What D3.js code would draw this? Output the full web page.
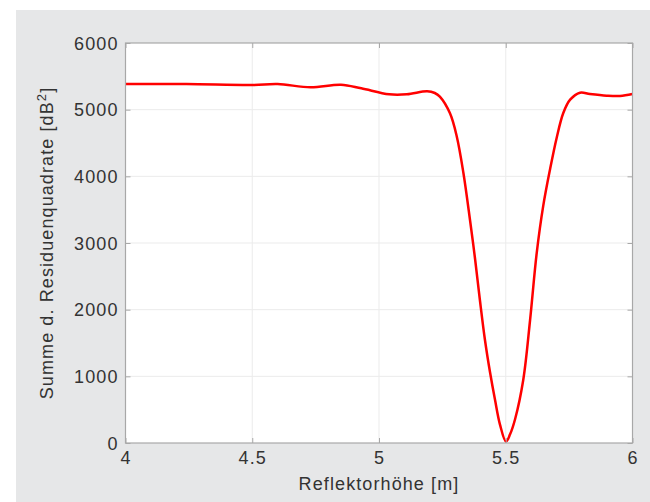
<!DOCTYPE html>
<html>
<head>
<meta charset="utf-8">
<script src="https://cdn.jsdelivr.net/npm/d3@7"></script>
<style>
  html, body { margin: 0; padding: 0; background: #ffffff; }
  svg { display: block; }
  text { font-family: "Liberation Sans", Arial, Helvetica, sans-serif; }
</style>
</head>
<body>
<script>
// Reflector height [m] and the summed squared residuals [dB^2]
const heights = [4.00, 4.24, 4.50, 4.60, 4.73, 4.85, 4.93, 5.04, 5.11, 5.19, 5.22, 5.24, 5.28, 5.307, 5.333,
                 5.359, 5.379, 5.398, 5.418, 5.438, 5.458, 5.477, 5.501, 5.517, 5.537, 5.569, 5.596,
                 5.622, 5.648, 5.675, 5.701, 5.727, 5.754, 5.793, 5.832, 5.898, 5.951, 6.00];
const residuals = [5385, 5385, 5370, 5385, 5335, 5375, 5320, 5230, 5230, 5275, 5250, 5195, 4945, 4595, 4050,
                   3345, 2760, 2145, 1545, 1060, 640, 280, 20, 130, 360, 945, 1845,
                   2845, 3560, 4110, 4580, 4950, 5150, 5255, 5235, 5210, 5205, 5235];

const xTicks = [4, 4.5, 5, 5.5, 6];
const yTicks = [0, 1000, 2000, 3000, 4000, 5000, 6000];

const W = 650, H = 502;
const plot = { left: 125.5, right: 632.5, top: 43, bottom: 443 };

const svg = d3.select("body").append("svg").attr("width", W).attr("height", H);

// figure background
svg.append("rect").attr("x", 16).attr("y", 10).attr("width", W - 16).attr("height", H - 10)
  .attr("fill", "#e6e7e8");

const x = d3.scaleLinear().domain([4, 6]).range([plot.left, plot.right]);
const y = d3.scaleLinear().domain([0, 6000]).range([plot.bottom, plot.top]);

// plotting area
svg.append("rect")
  .attr("x", plot.left).attr("y", plot.top)
  .attr("width", plot.right - plot.left).attr("height", plot.bottom - plot.top)
  .attr("fill", "#ffffff");

// grid
const grid = svg.append("g").attr("stroke", "#ebebeb").attr("stroke-width", 1);
grid.selectAll("line.gx").data(xTicks.slice(1, -1)).join("line")
  .attr("x1", d => x(d)).attr("x2", d => x(d))
  .attr("y1", plot.top).attr("y2", plot.bottom);
grid.selectAll("line.gy").data(yTicks.slice(1, -1)).join("line")
  .attr("x1", plot.left).attr("x2", plot.right)
  .attr("y1", d => y(d)).attr("y2", d => y(d));

// curve
const line = d3.line()
  .x((d, i) => x(heights[i]))
  .y(d => y(d))
  .curve(d3.curveCatmullRom.alpha(0.5));

svg.append("path")
  .datum(residuals)
  .attr("d", line)
  .attr("fill", "none")
  .attr("stroke", "#ff0000")
  .attr("stroke-width", 2.5)
  .attr("stroke-linejoin", "round");

// axes: box with inward ticks on all sides
const axisColor = "#a8a8a8";
const tickLen = 5;
const textColor = "#333333";

const bottomAxis = d3.axisBottom(x).tickValues(xTicks).tickSize(-tickLen).tickFormat(d3.format("~g"));
const topAxis = d3.axisTop(x).tickValues(xTicks).tickSize(-tickLen).tickFormat("");
const leftAxis = d3.axisLeft(y).tickValues(yTicks).tickSize(-tickLen).tickFormat(d3.format("d"));
const rightAxis = d3.axisRight(y).tickValues(yTicks).tickSize(-tickLen).tickFormat("");

function styleAxis(g) {
  g.select(".domain").remove();
  g.selectAll(".tick line").attr("stroke", axisColor);
  g.selectAll(".tick text")
    .attr("fill", textColor)
    .style("font-size", "18px")
    .style("letter-spacing", "1.1px")
    .style("font-family", "'Liberation Sans', Arial, sans-serif");
}

const gb = svg.append("g").attr("transform", `translate(0,${plot.bottom})`).call(bottomAxis).call(styleAxis);
gb.selectAll(".tick text").attr("y", 21).attr("dy", "0");
svg.append("g").attr("transform", `translate(0,${plot.top})`).call(topAxis).call(styleAxis);
const gl = svg.append("g").attr("transform", `translate(${plot.left},0)`).call(leftAxis).call(styleAxis);
gl.selectAll(".tick text").attr("x", -7).attr("dy", "0.35em");
svg.append("g").attr("transform", `translate(${plot.right},0)`).call(rightAxis).call(styleAxis);

// box outline
svg.append("rect")
  .attr("x", plot.left).attr("y", plot.top)
  .attr("width", plot.right - plot.left).attr("height", plot.bottom - plot.top)
  .attr("fill", "none").attr("stroke", axisColor).attr("stroke-width", 1.2);

// axis titles
svg.append("text")
  .attr("x", (plot.left + plot.right) / 2).attr("y", 490)
  .attr("text-anchor", "middle")
  .attr("fill", textColor)
  .style("font-size", "18px").style("letter-spacing", "1.1px")
  .text("Reflektorhöhe [m]");

const yTitle = svg.append("text")
  .attr("transform", `translate(53,${(plot.top + plot.bottom) / 2}) rotate(-90)`)
  .attr("text-anchor", "middle")
  .attr("fill", textColor)
  .style("font-size", "18px").style("letter-spacing", "1.1px");
yTitle.append("tspan").text("Summe d. Residuenquadrate [dB");
yTitle.append("tspan").attr("dy", -7).style("font-size", "13px").text("2");
yTitle.append("tspan").attr("dy", 7).text("]");
</script>
</body>
</html>
